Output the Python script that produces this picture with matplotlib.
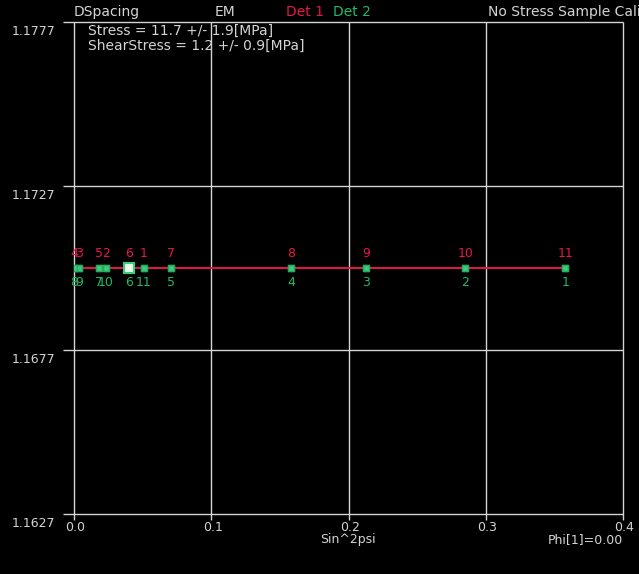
import matplotlib
matplotlib.use('Agg')
import matplotlib.pyplot as plt
import numpy as np

# sin^2 psi positions per detector, point numbers 1..11
det1_x = [0.051, 0.023, 0.004, 0.0, 0.018, 0.040, 0.0707, 0.158, 0.213, 0.285, 0.358]
det2_x = [0.358, 0.285, 0.213, 0.158, 0.0707, 0.040, 0.018, 0.0, 0.004, 0.023, 0.051]
det1_d = [1.1702] * 11
det2_d = [1.1702] * 11
point_ids = [str(i) for i in range(1, 12)]
selected = 6

yticks = [1.1627, 1.1677, 1.1727, 1.1777]
xticks = [0.0, 0.1, 0.2, 0.3, 0.4]

fg = '#d4d4d4'
red = '#e8164a'
green = '#22b868'

fig = plt.figure(figsize=(6.39, 5.74), dpi=100, facecolor='black')
ax = fig.add_axes([74 / 639, 1 - 514 / 574, 549 / 639, 492 / 574])
ax.set_facecolor('black')
ax.set_xlim(0.0, 0.4)
ax.set_ylim(1.1627, 1.1777)

for s in ax.spines.values():
    s.set_visible(False)
ax.set_xticks([])
ax.set_yticks([])

# grid and frame
for y in yticks:
    ax.plot([-0.008, 0.4], [y, y], color=fg, lw=1, clip_on=False, solid_capstyle='butt')
    ax.text(-0.0135, y - 0.0001, '%.4f' % y, color=fg, fontsize=9, ha='right', va='top')
for x in xticks:
    ax.plot([x, x], [1.1627 - 0.00018, 1.1777], color=fg, lw=1, clip_on=False, solid_capstyle='butt')
    ax.text(x + 0.001, 1.1627 - 0.00022, '%.1f' % x, color=fg, fontsize=9, ha='center', va='top')

# fit line
all_x = np.array(det1_x + det2_x)
all_d = np.array(det1_d + det2_d)
k, b = np.polyfit(all_x, all_d, 1)
xl = np.array([0.0, max(all_x)])
ax.plot(xl, k * xl + b, color=red, lw=1.4, zorder=3)

# points
ax.plot(det2_x, det2_d, 's', ms=4.5, color='#3ccc7c', mec='#2aa860', zorder=4)
ax.plot(det1_x, det1_d, 's', ms=4.5, color='#3ccc7c', mec='#2aa860', zorder=4)
ax.plot(det1_x[selected - 1], det1_d[selected - 1], 's', ms=7, color='#e8ffe8', mec='#3ccc7c',
        mew=1.5, zorder=5)

for x, d, t in zip(det1_x, det1_d, point_ids):
    ax.annotate(t, (x, d), xytext=(0, 6), textcoords='offset points', color=red,
                fontsize=9, ha='center', va='bottom')
for x, d, t in zip(det2_x, det2_d, point_ids):
    ax.annotate(t, (x, d), xytext=(0, -6), textcoords='offset points', color=green,
                fontsize=9, ha='center', va='top')

# header texts
hy = 1 - 12 / 574
fig.text(74 / 639, hy, 'DSpacing', color=fg, fontsize=10, va='center')
fig.text(215 / 639, hy, 'EM', color=fg, fontsize=10, va='center')
fig.text(286 / 639, hy, 'Det 1', color=red, fontsize=10, va='center')
fig.text(333 / 639, hy, 'Det 2', color=green, fontsize=10, va='center')
fig.text(488 / 639, hy, 'No Stress Sample Calibration', color=fg, fontsize=10, va='center')

fig.text(88 / 639, 1 - 31 / 574, 'Stress = 11.7 +/- 1.9[MPa]', color=fg, fontsize=10, va='center')
fig.text(88 / 639, 1 - 46 / 574, 'ShearStress = 1.2 +/- 0.9[MPa]', color=fg, fontsize=10, va='center')

fig.text(348 / 639, 1 - 540 / 574, 'Sin^2psi', color=fg, fontsize=9, ha='center', va='center')
fig.text(623 / 639, 1 - 540 / 574, 'Phi[1]=0.00', color=fg, fontsize=9, ha='right', va='center')

fig.savefig('out.png', dpi=100, facecolor='black')
